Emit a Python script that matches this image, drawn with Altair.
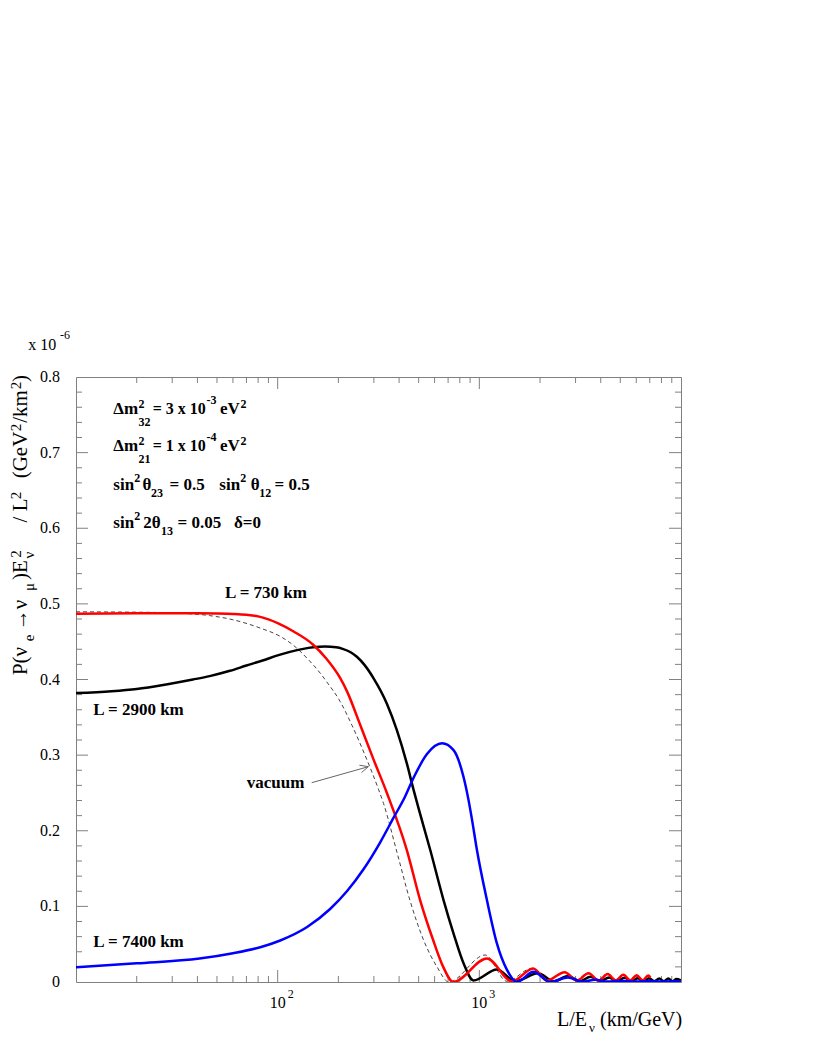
import altair as alt
import pandas as pd

# ---------------- data (values in units of 1e-6 GeV^2/km^2) ----------------
red_x = [10, 20, 40, 50, 60, 70, 80, 90, 100, 120, 150, 175, 204, 221, 257, 298, 348, 437, 509, 590, 662, 742,
         1091, 1452, 1851, 2164, 2650, 3050, 3480, 3900, 4330, 4750, 5180, 5600, 6030, 6450, 6880, 7050]
red_y = [0.487, 0.4875, 0.4875, 0.4872, 0.4866, 0.4855, 0.4835, 0.4795, 0.4745, 0.4635, 0.446, 0.427, 0.402,
         0.384, 0.3395, 0.295, 0.250, 0.1745, 0.108, 0.0555, 0.020, 0.0,
         0.031, 0.001, 0.018, 0.002, 0.013, 0.002, 0.0115, 0.002, 0.0105, 0.002, 0.0095, 0.002, 0.009, 0.002,
         0.0085, 0.006]

black_x = [10, 15, 20, 28, 38, 46, 58, 70, 85, 99, 115, 134, 150, 172, 195, 210, 230, 247, 270, 299, 348, 390,
           437, 472, 509, 571, 665, 745, 835, 935,
           1222, 1507, 1950, 2350, 2750, 3150, 3560, 3980, 4400, 4820, 5250, 5680, 6100, 6520, 6950, 7370,
           7800, 8220, 8650, 9070, 9500, 10000]
black_y = [0.382, 0.3845, 0.3875, 0.3935, 0.400, 0.4045, 0.4115, 0.4185, 0.4255, 0.4315, 0.4365, 0.4405,
           0.4425, 0.4435, 0.4425, 0.4405, 0.436, 0.430, 0.419, 0.4015, 0.368, 0.333,
           0.289, 0.254, 0.222, 0.1745, 0.108, 0.064, 0.0247, 0.002,
           0.0165, 0.001, 0.0115, 0.001, 0.008, 0.001, 0.007, 0.001, 0.006, 0.001, 0.0055, 0.001, 0.005, 0.001,
           0.005, 0.001, 0.0045, 0.001, 0.0045, 0.001, 0.004, 0.002]

blue_x = [10, 20, 41, 60, 82, 103, 140, 182, 221, 267, 323, 375, 428, 472, 550, 653, 745, 835, 884, 918, 973,
          1091, 1222, 1371, 1535, 1857, 2245, 2750, 3250, 3750, 4300, 5000, 6000, 7000, 8000, 9000, 10000]
blue_y = [0.0194, 0.0247, 0.031, 0.038, 0.046, 0.0549, 0.0727, 0.0965, 0.1203, 0.1494, 0.1851, 0.2169, 0.245,
          0.270, 0.3015, 0.3157, 0.3066, 0.271, 0.2405, 0.216, 0.1745, 0.108, 0.051, 0.016, 0.0, 0.0136, 0.0,
          0.006, 0.0005, 0.003, 0.0005, 0.0015, 0.0005, 0.0012, 0.0005, 0.001, 0.001]

vac_x = [10, 20, 30, 46, 60, 82, 103, 120, 140, 163, 175, 204, 234, 271, 316, 335, 390, 454, 529, 617, 705,
         1069, 1371, 1823, 2150, 2640, 3000, 3450, 3850, 4300, 4700, 5150, 5550, 6000, 6400, 6850, 7000]
vac_y = [0.4895, 0.489, 0.488, 0.4845, 0.479, 0.468, 0.457, 0.445, 0.428, 0.408, 0.397, 0.371, 0.339, 0.300,
         0.255, 0.236, 0.172, 0.107, 0.0555, 0.020, 0.0,
         0.0357, 0.001, 0.0181, 0.002, 0.013, 0.002, 0.0118, 0.002, 0.0105, 0.002, 0.0097, 0.002, 0.009, 0.002,
         0.0085, 0.006]

x_major = [100, 1000]
x_minor = [20, 30, 40, 50, 60, 70, 80, 90, 200, 300, 400, 500, 600, 700, 800, 900,
           2000, 3000, 4000, 5000, 6000, 7000, 8000, 9000]
x_label_vals = [100, 1000]
x_label_base = ["10", "10"]
x_label_exp = ["2", "3"]
y_labels = [0, 0.1, 0.2, 0.3, 0.4, 0.5, 0.6, 0.7, 0.8]
y_label_text = ["0", "0.1", "0.2", "0.3", "0.4", "0.5", "0.6", "0.7", "0.8"]
y_major = [0.1, 0.2, 0.3, 0.4, 0.5, 0.6, 0.7]
y_minor = [0.02, 0.04, 0.06, 0.08, 0.12, 0.14, 0.16, 0.18, 0.22, 0.24, 0.26, 0.28, 0.32, 0.34, 0.36, 0.38,
           0.42, 0.44, 0.46, 0.48, 0.52, 0.54, 0.56, 0.58, 0.62, 0.64, 0.66, 0.68, 0.72, 0.74, 0.76, 0.78]

# ---------------- layout ----------------
W = H = 605
FONT = "'Liberation Serif', 'Times New Roman', Times, serif"
GRAY = "#808080"
xs = alt.Scale(type="log", domain=[10, 10000])
ys = alt.Scale(domain=[0, 0.8])
dummy = pd.DataFrame({"a": [0]})


def line(xv, yv, color, width, dash=None):
    df = pd.DataFrame({"x": xv, "y": yv})
    kw = dict(color=color, strokeWidth=width, interpolate="monotone", clip=True)
    if dash:
        kw["strokeDash"] = dash
    return alt.Chart(df).mark_line(**kw).encode(
        x=alt.X("x:Q", scale=xs, axis=None),
        y=alt.Y("y:Q", scale=ys, axis=None),
    )


def txt(t, px, py, size, weight="normal", align="left", angle=0, color="black"):
    kw = dict(font=FONT, fontSize=size, fontWeight=weight, align=align, baseline="middle", color=color)
    if angle:
        kw["angle"] = angle
    return alt.Chart(dummy).mark_text(**kw).encode(
        x=alt.value(px), y=alt.value(py), text=alt.value(t)
    )


layers = []

# tick marks pointing inward on all four sides
def xticks(vals, length, top):
    df = pd.DataFrame({"x": vals})
    y1, y2 = (0, length) if top else (H - length, H)
    return alt.Chart(df).mark_rule(color=GRAY, strokeWidth=1).encode(
        x=alt.X("x:Q", scale=xs, axis=None), y=alt.value(y1), y2=alt.value(y2))


def yticks(vals, length, right):
    df = pd.DataFrame({"y": vals})
    x1, x2 = (W - length, W) if right else (0, length)
    return alt.Chart(df).mark_rule(color=GRAY, strokeWidth=1).encode(
        y=alt.Y("y:Q", scale=ys, axis=None), x=alt.value(x1), x2=alt.value(x2))


for top in (False, True):
    layers.append(xticks(x_major, 12, top))
    layers.append(xticks(x_minor, 6, top))
for right in (False, True):
    layers.append(yticks(y_major, 12, right))
    layers.append(yticks(y_minor, 6, right))

# curves
layers.append(line(vac_x, vac_y, "#444444", 1, [4, 3]))
layers.append(line(black_x, black_y, "black", 2.5))
layers.append(line(red_x, red_y, "#ff0000", 2.5))
layers.append(line(blue_x, blue_y, "#0000ff", 2.5))

# tick labels (drawn as text through the scales)
layers.append(
    alt.Chart(pd.DataFrame({"y": y_labels, "t": y_label_text})).mark_text(
        font=FONT, fontSize=16, align="right", baseline="middle", color="black"
    ).encode(y=alt.Y("y:Q", scale=ys, axis=None), x=alt.value(-16), text="t:N")
)
xl = pd.DataFrame({"x": x_label_vals, "b": x_label_base, "e": x_label_exp})
layers.append(
    alt.Chart(xl).mark_text(font=FONT, fontSize=16, align="center", baseline="middle", color="black")
    .encode(x=alt.X("x:Q", scale=xs, axis=None), y=alt.value(626), text="b:N")
)
layers.append(
    alt.Chart(xl).mark_text(font=FONT, fontSize=12, dx=13, align="center", baseline="middle", color="black")
    .encode(x=alt.X("x:Q", scale=xs, axis=None), y=alt.value(617), text="e:N")
)

# parameter block
B = "bold"
for (yy, dm, sub, ex) in [(32, "= 3 x 10", "32", "-3"), (69, "= 1 x 10", "21", "-4")]:
    layers.append(txt("\u0394m", 37.3, yy, 17, B))
    layers.append(txt(dm, 76.7, yy, 16, B))
    layers.append(txt("eV", 144, yy, 17, B))
    layers.append(txt("2", 62.5, yy - 5, 12, B))
    layers.append(txt(sub, 62.5, yy + 12.7, 12, B))
    layers.append(txt(ex, 130.5, yy - 9, 12, B))
    layers.append(txt("2", 164.5, yy - 5, 12, B))
for (t, px) in [("sin", 37.3), ("\u03b8", 66.5), ("= 0.5", 93.5), ("sin", 143.3), ("\u03b8", 174.7), ("= 0.5", 198.5)]:
    layers.append(txt(t, px, 108, 17, B))
for (t, px, py) in [("2", 58.3, 101.3), ("2", 164.3, 101.3), ("23", 75, 115.7), ("12", 183.2, 115.7)]:
    layers.append(txt(t, px, py, 12, B))
for (t, px) in [("sin", 37.3), ("2\u03b8", 67.3), ("= 0.05", 101.5), ("\u03b4=0", 158)]:
    layers.append(txt(t, px, 146, 17, B))
for (t, px, py) in [("2", 58.3, 139.3), ("13", 85, 153.7)]:
    layers.append(txt(t, px, py, 12, B))

# curve labels
layers.append(txt("L = 730 km", 149, 216.3, 17, B))
layers.append(txt("L = 2900 km", 17.3, 333, 17, B))
layers.append(txt("L = 7400 km", 17.3, 564.7, 17, B))
layers.append(txt("vacuum", 170.7, 405.7, 17, B))

# arrow from "vacuum" to dashed curve
arrow_segments = [((235.7, 405.7), (292.3, 389.7)), ((283.4, 388.2), (292.3, 389.7)), ((285.5, 395.6), (292.3, 389.7))]
for (a, b) in arrow_segments:
    layers.append(alt.Chart(dummy).mark_rule(color="#666666", strokeWidth=1).encode(
        x=alt.value(a[0]), y=alt.value(a[1]), x2=alt.value(b[0]), y2=alt.value(b[1])))

# multiplier
layers.append(txt("x 10", -47.7, -32, 16))
layers.append(txt("-6", -16, -42, 12))

# x-axis title
layers.append(txt("L/E", 481, 643, 20))
layers.append(txt("\u03bd", 513, 651, 13))
layers.append(txt("(km/GeV)", 524, 643, 20))

# y-axis title (rotated)
for (t, py) in [("P(\u03bd", 284), ("\u2192\u03bd", 238), (")E", 193), ("/ L", 133.5), ("(GeV", 78),
                ("/km", 29.5), (")", 1.5)]:
    layers.append(txt(t, -55, py, 21, align="center", angle=270))
for (t, py) in [("e", 261), ("\u03bc", 210), ("\u03bd", 178)]:
    layers.append(txt(t, -47, py, 15, align="center", angle=270))
for (t, py) in [("2", 177), ("2", 118.5), ("2", 50.5), ("2", 8.5)]:
    layers.append(txt(t, -60, py, 15, align="center", angle=270))

chart = alt.layer(*layers).properties(
    width=W, height=H,
    padding={"left": 68, "top": 369, "right": 128, "bottom": 68},
    autosize=alt.AutoSizeParams(type="none"),
).configure_view(stroke=GRAY, strokeWidth=1)

chart.save("out.html", embed_options={"renderer": "svg", "actions": False})
